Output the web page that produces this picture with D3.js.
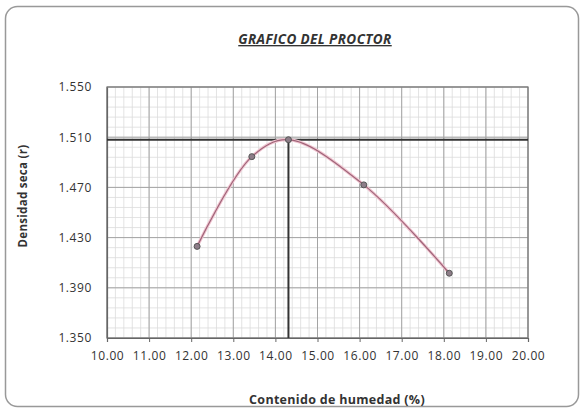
<!DOCTYPE html>
<html><head><meta charset="utf-8">
<script src="https://cdn.jsdelivr.net/npm/d3@7"></script>
<style>
body{margin:0;background:#fff;}
text{font-family:"Open Sans","Liberation Sans",sans-serif;fill:#333;}
</style></head>
<body><svg id="c" width="581" height="409"></svg>
<script>
// Data
const humedad = [12.14, 13.44, 14.31, 16.10, 18.13];
const densidad = [1.423, 1.4945, 1.508, 1.472, 1.4016];
const optimoHumedad = 14.31;
const maxDensidad = 1.508;
const xTicks = [10,11,12,13,14,15,16,17,18,19,20];
const yTicks = [1.350,1.390,1.430,1.470,1.510,1.550];
const title = "GRAFICO DEL PROCTOR";
const xTitle = "Contenido de humedad (%)";
const yTitle = "Densidad seca (r)";

const svg = d3.select("#c");
const L=107, R=528, T=87, B=338;
const x = d3.scaleLinear().domain([10,20]).range([L,R]);
const y = d3.scaleLinear().domain([1.35,1.55]).range([B,T]);

// frame
svg.append("rect").attr("x",5.5).attr("y",6.5).attr("width",573).attr("height",400)
  .attr("rx",12).attr("fill","#fff").attr("stroke","#999").attr("stroke-width",1.5);

// minor grid
const minorX = d3.range(0,51).map(i=>10+i*0.2);
const minorY = d3.range(0,26).map(i=>1.35+i*0.008);
const g = svg.append("g");
g.selectAll(".mx").data(minorX).enter().append("line")
  .attr("x1",d=>x(d)).attr("x2",d=>x(d)).attr("y1",T).attr("y2",B)
  .attr("stroke","#dcdcdc").attr("stroke-width",0.8);
g.selectAll(".my").data(minorY).enter().append("line")
  .attr("y1",d=>y(d)).attr("y2",d=>y(d)).attr("x1",L).attr("x2",R)
  .attr("stroke","#dcdcdc").attr("stroke-width",0.8);
// major grid
g.selectAll(".Mx").data(xTicks).enter().append("line")
  .attr("x1",d=>x(d)).attr("x2",d=>x(d)).attr("y1",T).attr("y2",B)
  .attr("stroke","#a4a4a4").attr("stroke-width",1);
g.selectAll(".My").data(yTicks).enter().append("line")
  .attr("y1",d=>y(d)).attr("y2",d=>y(d)).attr("x1",L).attr("x2",R)
  .attr("stroke","#a4a4a4").attr("stroke-width",1);
// plot border
svg.append("rect").attr("x",L).attr("y",T).attr("width",R-L).attr("height",B-T)
  .attr("fill","none").attr("stroke","#777").attr("stroke-width",1.2);

// axes
const xAxis = svg.append("g").attr("transform",`translate(0,${B})`)
  .call(d3.axisBottom(x).tickValues(xTicks).tickFormat(d3.format(".2f")).tickSize(4).tickPadding(9));
const yAxis = svg.append("g").attr("transform",`translate(${L},0)`)
  .call(d3.axisLeft(y).tickValues(yTicks).tickFormat(d3.format(".3f")).tickSize(0).tickPadding(15));
[xAxis,yAxis].forEach(a=>{
  a.select(".domain").attr("stroke","#666").attr("stroke-width",1.2);
  a.selectAll(".tick line").attr("stroke","#666");
  a.selectAll("text").attr("font-size",12).attr("fill","#444").attr("letter-spacing","0.6px")
   .attr("font-family","'Open Sans',sans-serif");
});

// reference lines
svg.append("line").attr("x1",L).attr("x2",R).attr("y1",y(maxDensidad)).attr("y2",y(maxDensidad))
  .attr("stroke","#333").attr("stroke-width",2);
svg.append("line").attr("x1",x(optimoHumedad)).attr("x2",x(optimoHumedad)).attr("y1",y(maxDensidad)).attr("y2",B)
  .attr("stroke","#333").attr("stroke-width",2);

// curve
const pts = humedad.map((h,i)=>[h,densidad[i]]);
const line = d3.line().x(d=>x(d[0])).y(d=>y(d[1])).curve(d3.curveCatmullRom.alpha(0.5));
svg.append("path").attr("d",line(pts)).attr("fill","none").attr("stroke","#f0c4d0").attr("stroke-width",3.2);
svg.append("path").attr("d",line(pts)).attr("fill","none").attr("stroke","#9e6478").attr("stroke-width",1.2);
svg.selectAll(".pt").data(pts).enter().append("circle")
  .attr("cx",d=>x(d[0])).attr("cy",d=>y(d[1])).attr("r",3)
  .attr("fill","#8d7d88").attr("stroke","#555").attr("stroke-width",1);

// titles
svg.append("text").attr("x",315).attr("y",44).attr("text-anchor","middle")
  .attr("font-size",13.5).attr("font-weight","bold").attr("font-style","italic")
  .attr("text-decoration","underline").attr("fill","#444").attr("letter-spacing","0.4px").text(title);
svg.append("text").attr("x",337).attr("y",404).attr("text-anchor","middle")
  .attr("font-size",12.5).attr("font-weight","bold").attr("fill","#444").attr("letter-spacing","0.3px").text(xTitle);
svg.append("text").attr("transform","translate(27,196) rotate(-90)").attr("text-anchor","middle")
  .attr("font-size",11.5).attr("font-weight","bold").attr("fill","#444").attr("letter-spacing","0.3px").text(yTitle);
</script></body></html>
